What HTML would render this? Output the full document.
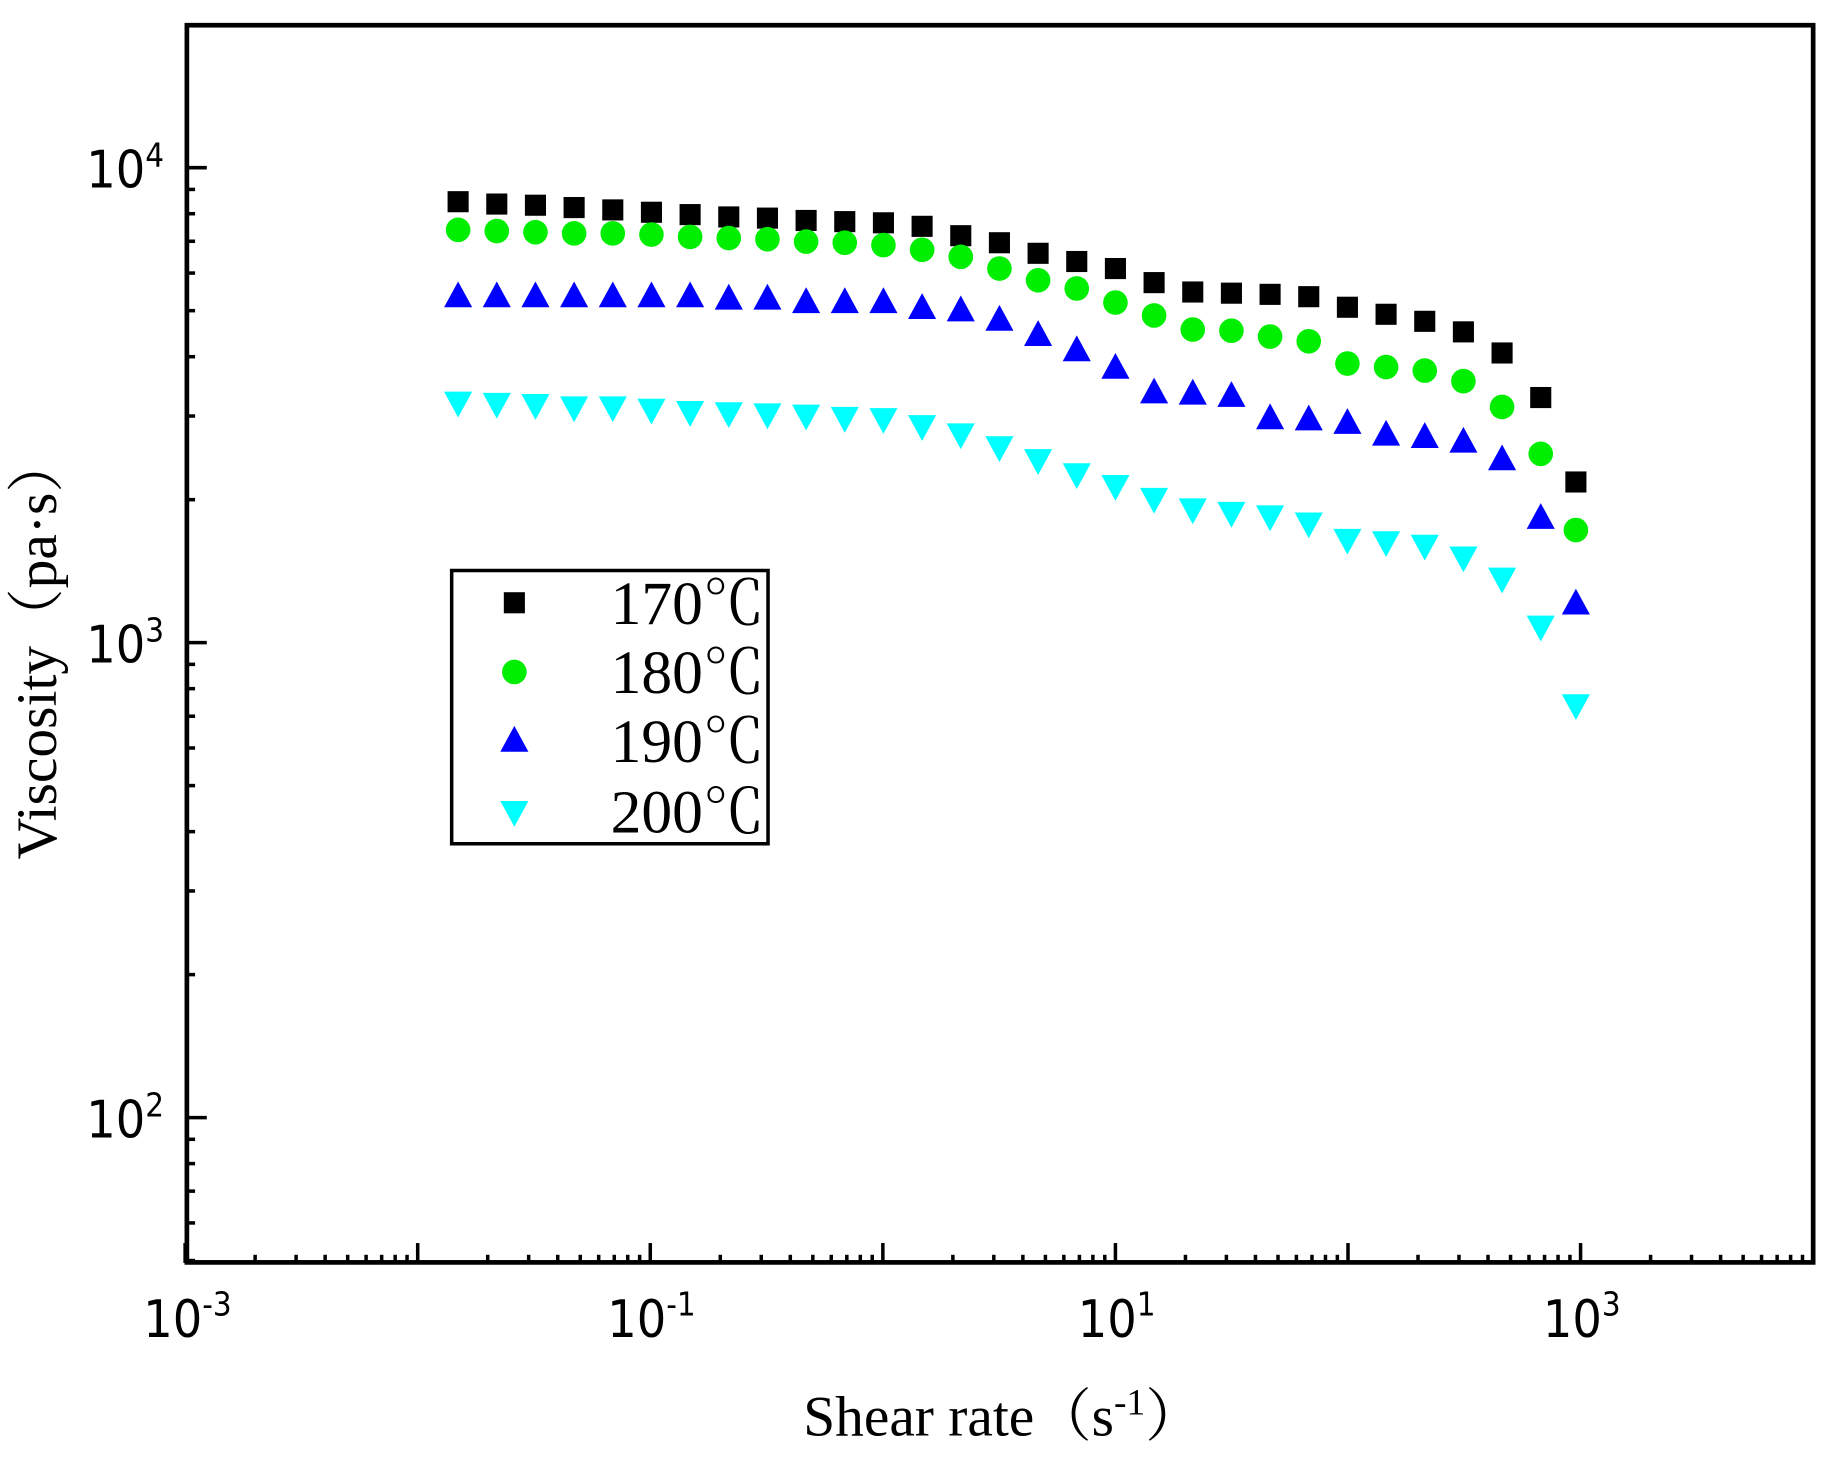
<!DOCTYPE html>
<html><head><meta charset="utf-8"><style>
html,body{margin:0;padding:0;background:#fff;}
svg{display:block;}
.tl{font-family:"DejaVu Sans Condensed","Liberation Sans Narrow","Liberation Sans",sans-serif;font-size:44px;fill:#000;}
.sup{font-size:28px;}
.ser{font-family:"Liberation Serif","Noto Serif CJK SC",serif;fill:#000;}
</style></head><body>
<svg width="1836" height="1460" viewBox="0 0 1567 1245" preserveAspectRatio="none" xmlns="http://www.w3.org/2000/svg">
<g id="ticks" stroke="#000" stroke-width="3"></g>
<rect x="159.5" y="21.5" width="1388" height="1055" fill="none" stroke="#000" stroke-width="4"/>
<g id="pts"></g>
<g class="tl" text-anchor="end">
<text x="140" y="160">10<tspan class="sup" dy="-18">4</tspan></text>
<text x="140" y="565">10<tspan class="sup" dy="-18">3</tspan></text>
<text x="140" y="970">10<tspan class="sup" dy="-18">2</tspan></text>
</g>
<g class="tl" text-anchor="middle">
<text x="160" y="1140">10<tspan class="sup" dy="-18">-3</tspan></text>
<text x="556" y="1140">10<tspan class="sup" dy="-18">-1</tspan></text>
<text x="953" y="1140">10<tspan class="sup" dy="-18">1</tspan></text>
<text x="1350" y="1140">10<tspan class="sup" dy="-18">3</tspan></text>
</g>
<text class="ser" x="856" y="1224" text-anchor="middle" font-size="49">Shear rate（s<tspan font-size="32" dy="-18">-1</tspan><tspan dy="18">）</tspan></text>
<text class="ser" transform="translate(48,552) rotate(-90)" text-anchor="middle" font-size="49">Viscosity（pa·s）</text>
<rect x="385.5" y="486.5" width="270" height="233" fill="#fff" stroke="#000" stroke-width="3"/>
<g class="ser" font-size="52" transform="scale(1.01,1)">
<text x="516" y="532">170℃</text>
<text x="516" y="591">180℃</text>
<text x="516" y="650">190℃</text>
<text x="516" y="710">200℃</text>
</g>
<g id="leg"></g>
</svg>
<script>
var NS="http://www.w3.org/2000/svg";
function el(p,t,a){var e=document.createElementNS(NS,t);for(var k in a)e.setAttribute(k,a[k]);p.appendChild(e);return e;}
var tk=document.getElementById('ticks');
var X0=158,DX=198.5,Y4=143,DY=405,B=1077,L=159.5;
for(var d=-3;d<4;d++)for(var m=1;m<10;m++){var x=X0+(d+3+Math.log10(m))*DX;if(x>1546)continue;var len=m==1?17:7;el(tk,'line',{x1:x,y1:B,x2:x,y2:B-len});}
for(var d=1;d<5;d++)for(var m=1;m<10;m++){var y=Y4+(4-d-Math.log10(m))*DY;if(y<22||y>1076)continue;var len=m==1?17:7;el(tk,'line',{x1:L,y1:y,x2:L+len,y2:y});}
var xs=[];for(var i=0;i<29;i++)xs.push(391+33*i);xs.push(1345);
var S={
k:[172,174,175,177,179,181,183,185,186,188,189,190,193,201,207,216,223,229,241,249,250,251,253,262,268,274,283,301,339,411],
g:[196,197,198,199,199,200,202,203,204,206,207,209,213,219,229,239,246,258,269,281,282,287,291,310,313,316,325,347,387,452],
b:[252,252,252,252,252,252,252,254,254,257,257,257,262,264,272,285,298,313,334,335,337,356,357,360,370,372,376,391,441,514],
c:[344,345,346,348,348,350,352,353,354,355,357,358,364,371,382,393,405,415,426,435,438,441,447,461,463,466,476,494,535,602]};
var P=document.getElementById('pts');
function mk(g,t,x,y){
 if(t=='k')el(g,'rect',{x:x-9,y:y-9,width:18,height:18,fill:'#000'});
 if(t=='g')el(g,'circle',{cx:x,cy:y,r:10.5,fill:'#00ee00'});
 if(t=='b')el(g,'polygon',{points:(x-12)+','+(y+10)+' '+(x+12)+','+(y+10)+' '+x+','+(y-12),fill:'#0000ff'});
 if(t=='c')el(g,'polygon',{points:(x-12)+','+(y-10)+' '+(x+12)+','+(y-10)+' '+x+','+(y+12),fill:'#00ffff'});
}
['k','g','b','c'].forEach(function(t){S[t].forEach(function(y,i){mk(P,t,xs[i],y);});});
var lg=document.getElementById('leg');
mk(lg,'k',439,514);mk(lg,'g',439,573);mk(lg,'b',439,631);mk(lg,'c',439,693);
</script>
</body></html>
